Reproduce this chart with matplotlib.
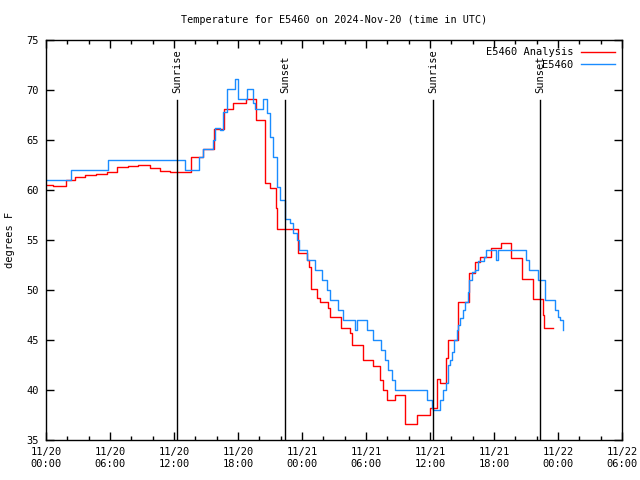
import matplotlib
matplotlib.use("Agg")
import matplotlib.pyplot as plt
from matplotlib.ticker import MultipleLocator

# hours since 2024-11-20 00:00 UTC
obs_hours = [0.0, 2.32, 5.81, 13.03, 14.34, 14.72, 15.63, 15.84, 16.31, 16.59, 16.97,
             17.72, 18.0, 18.82, 19.38, 19.59, 20.32, 20.69, 21.0, 21.28, 21.63, 21.94,
             22.41, 22.88, 23.16, 23.5, 23.72, 24.44, 25.22, 25.85, 26.32, 26.63, 27.38,
             27.84, 29.0, 29.16, 30.07, 30.63, 31.38, 31.78, 32.06, 32.41, 32.72, 35.69,
             36.16, 36.28, 36.94, 37.25, 37.47, 37.66, 37.88, 38.03, 38.28, 38.5, 38.66,
             38.81, 39.06, 39.28, 39.53, 39.68, 39.91, 40.22, 40.47, 41.09, 41.22, 42.19,
             42.4, 45.0, 45.31, 46.15, 46.78, 47.72, 48.03, 48.19, 48.44, 48.5]
obs_temps = [61, 62, 63, 62, 63.3, 64.1, 65, 66.2, 66, 67.8, 70.1,
             71.1, 69.1, 70.1, 68.7, 68.1, 69.1, 67.7, 65.3, 63.3, 60.3, 59,
             57.1, 56.7, 55.7, 55, 54, 53, 52, 51, 50, 49, 48,
             47, 46, 47, 46, 45, 44, 43, 42, 41, 40, 39,
             38.2, 38, 39, 40, 40.7, 42.5, 43, 43.8, 45, 46, 46.5,
             47.2, 48, 48.8, 49.8, 51, 51.8, 52, 52.9, 53.3, 54, 53,
             54, 53, 52, 51, 49, 48, 47.3, 47, 46, 46]

ana_hours = [0.0, 0.63, 1.88, 2.72, 3.66, 4.69, 5.69, 6.68, 7.72, 8.65, 9.75, 10.69,
             11.63, 13.57, 14.69, 15.78, 16.72, 17.56, 18.75, 19.69, 20.53, 21.0, 21.56,
             21.69, 23.63, 24.5, 24.69, 24.82, 25.43, 25.69, 26.47, 26.63, 27.63, 28.5,
             28.66, 29.75, 30.66, 31.31, 31.6, 31.94, 32.72, 33.66, 34.75, 36.0, 36.68,
             36.94, 37.5, 37.72, 38.6, 39.68, 40.22, 40.69, 41.72, 42.66, 43.59, 44.63,
             45.68, 46.56, 46.69, 47.5]
ana_temps = [60.5, 60.4, 61.0, 61.3, 61.5, 61.6, 61.8, 62.3, 62.4, 62.5, 62.2, 61.9,
             61.8, 63.3, 64.1, 66.1, 68.1, 68.7, 69.1, 67, 60.7, 60.2, 58.2,
             56.1, 53.7, 53, 52.3, 50.1, 49.2, 48.8, 48.2, 47.3, 46.2, 45.7,
             44.5, 43, 42.4, 41, 40, 39, 39.5, 36.6, 37.5, 38.2, 41.1,
             40.7, 43.2, 45, 48.8, 51.7, 52.8, 53.3, 54.2, 54.7, 53.2, 51.1,
             49.1, 47.5, 46.2, 46.2]

sun_hours = [12.28, 22.4, 36.28, 46.3]
sun_labels = ["Sunrise", "Sunset", "Sunrise", "Sunset"]

xtick_labels = ["11/20\n00:00", "11/20\n06:00", "11/20\n12:00", "11/20\n18:00",
                "11/21\n00:00", "11/21\n06:00", "11/21\n12:00", "11/21\n18:00",
                "11/22\n00:00", "11/22\n06:00"]

font = "DejaVu Sans Mono"
fs = 7.5

fig = plt.figure(figsize=(6.4, 4.8), dpi=100)
ax = fig.add_axes([46 / 640, 40 / 480, 576 / 640, 400 / 480])

ax.plot(ana_hours, ana_temps, color="#ff0000", lw=1.0, drawstyle="steps-post",
        label="E5460 Analysis")
ax.plot(obs_hours, obs_temps, color="#1a8cff", lw=1.0, drawstyle="steps-post",
        label="E5460")

for h, lab in zip(sun_hours, sun_labels):
    ax.plot([h, h], [35, 69], color="black", lw=1.0)
    ax.text(h, 69.7, lab, rotation=90, ha="center", va="bottom",
            family=font, fontsize=fs)

ax.set_xlim(0, 54)
ax.set_ylim(35, 75)
ax.set_xticks(range(0, 55, 6))
ax.set_xticklabels(xtick_labels, family=font, fontsize=fs)
ax.xaxis.set_minor_locator(MultipleLocator(2))
ax.set_yticks(range(35, 76, 5))
ax.set_yticklabels([str(v) for v in range(35, 76, 5)], family=font, fontsize=fs)
ax.tick_params(which="both", direction="in", top=True, right=True, width=1)
ax.tick_params(which="major", length=6, pad=5)
ax.tick_params(which="minor", length=3)
for s in ax.spines.values():
    s.set_linewidth(1.0)

ax.set_ylabel("degrees F", family=font, fontsize=fs, labelpad=8)
ax.set_title("Temperature for E5460 on 2024-Nov-20 (time in UTC)",
             family=font, fontsize=7.3, pad=12)

leg = ax.legend(loc="upper right", frameon=False, prop={"family": font, "size": fs},
                markerfirst=False, handlelength=3.2, borderaxespad=0.3,
                labelspacing=0.25, handletextpad=0.8)
for t in leg.get_texts():
    t.set_ha("right")

fig.savefig("out.png", dpi=100)
